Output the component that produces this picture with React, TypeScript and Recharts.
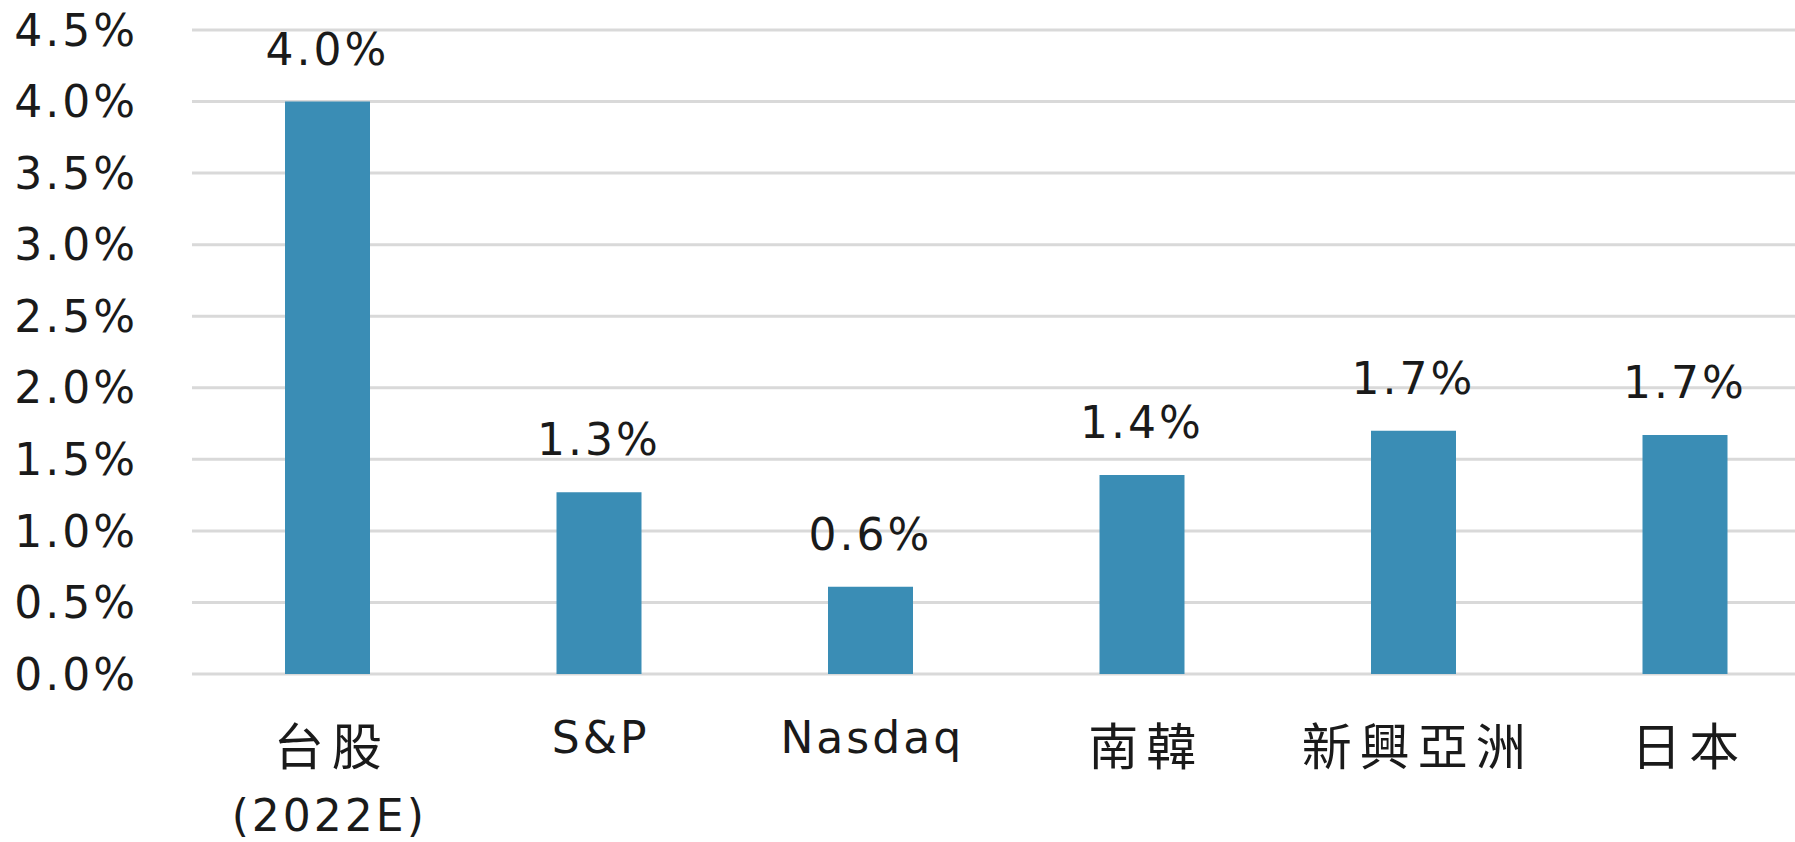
import { BarChart, Bar, XAxis, YAxis, CartesianGrid, LabelList } from "recharts";

const categories = ["台股\n(2022E)", "S&P", "Nasdaq", "南韓", "新興亞洲", "日本"];
const values = [4.0, 1.27, 0.61, 1.39, 1.7, 1.67];
const yTicks = [0, 0.5, 1.0, 1.5, 2.0, 2.5, 3.0, 3.5, 4.0, 4.5];

const FONT = "'DejaVu Sans', 'Noto Sans CJK TC', sans-serif";

const chartData = categories.map((name, i) => ({ name, value: values[i] }));

const isLatin = (s: string) => /^[\x00-\x7f]+$/.test(s);

function CategoryTick({ x, y, payload }: any) {
  const lines = String(payload.value).split("\n");
  // latin-only labels sit a bit higher in the original
  const top = isLatin(lines[0]) ? 71 : 83;
  return (
    <g transform={`translate(${x},${y})`}>
      {lines.map((line, i) => {
        const latin = isLatin(line);
        const spacing = latin ? 3 : 8;
        return (
          <text
            key={i}
            x={spacing / 2}
            y={top + i * 66}
            textAnchor="middle"
            fill="#1a1a1a"
            fontSize={latin ? 44 : 50}
            letterSpacing={spacing}
            fontFamily={FONT}
          >
            {line}
          </text>
        );
      })}
    </g>
  );
}

export default function App() {
  return (
    <div style={{ position: "fixed", left: 0, top: 0, width: 1795, height: 842, overflow: "hidden", background: "#fff" }}>
      <BarChart
        width={1830}
        height={842}
        data={chartData}
        margin={{ top: 30, right: 9, bottom: 0, left: 0 }}
      >
        <CartesianGrid vertical={false} stroke="#d9d9d9" strokeWidth={3} />
        <XAxis
          dataKey="name"
          axisLine={false}
          tickLine={false}
          height={168}
          interval={0}
          tick={<CategoryTick />}
        />
        <YAxis
          type="number"
          domain={[0, 4.5]}
          ticks={yTicks}
          width={192}
          axisLine={false}
          tickLine={false}
          tickSize={0}
          tickMargin={54}
          tickFormatter={(v: number) => `${v.toFixed(1)}%`}
          tick={{ fill: "#1a1a1a", fontSize: 44, fontFamily: FONT, letterSpacing: 3 }}
        />
        <Bar dataKey="value" fill="#3a8db5" barSize={85} isAnimationActive={false}>
          <LabelList
            dataKey="value"
            position="top"
            offset={37}
            formatter={(v: any) => `${Number(v).toFixed(1)}%`}
            fill="#1a1a1a"
            fontSize={44}
            letterSpacing={3}
            fontFamily={FONT}
          />
        </Bar>
      </BarChart>
    </div>
  );
}
